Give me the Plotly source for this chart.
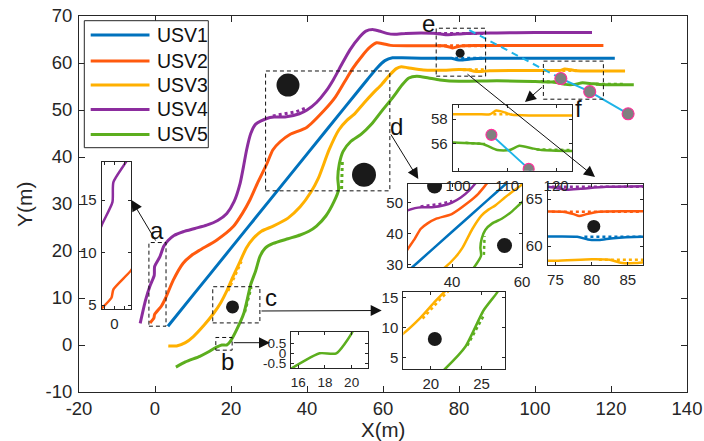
import plotly.graph_objects as go

W, H = 704, 441
FONT = "Liberation Sans, Arial, sans-serif"
AX = "#262626"

# ---------------- data ----------------
usv_names = ["USV1", "USV2", "USV3", "USV4", "USV5"]
usv_colors = ["#0072BD", "#FF5A0E", "#FFB000", "#8C2D9E", "#5CAE1E"]

usv1_x = [3.4, 10, 20, 30, 40, 50, 56, 58.5, 60.5, 62.5, 65, 70, 78, 79.5, 81, 83, 87, 100, 121]
usv1_y = [4.0, 10.6, 20.6, 30.6, 40.6, 50.6, 56.6, 59.0, 60.5, 61.1, 61.1, 61.0, 61.0, 60.7, 60.65, 60.85, 61.0, 61.0, 61.0]

usv2_x = [-1.3, -0.3, -0.1, 1.7, 2.8, 4.8, 7.4, 9.5, 11.8, 16.2, 20.6, 23.0, 25.0, 27.0, 29.4, 31.0, 33.0,
          35.5, 39.9, 44.6, 47.5, 49.9, 52.0, 54.5, 56.5, 58.3, 60.0, 62.0, 70.0, 76.0, 77.5, 78.3, 79.3,
          81.0, 85.0, 100.0, 118.0]
usv2_y = [4.7, 5.7, 6.5, 8.3, 10.0, 13.8, 17.4, 19.0, 20.2, 22.3, 25.2, 28.0, 30.9, 34.5, 38.5, 41.5, 43.3,
          44.8, 46.3, 50.0, 52.8, 56.0, 58.8, 61.5, 63.3, 64.3, 64.1, 63.75, 63.65, 63.65, 63.4, 63.2, 63.4,
          63.65, 63.7, 63.7, 63.7]

usv3_x = [3.5, 5.7, 8.0, 10.1, 13.0, 15.4, 17.3, 18.9, 20.5, 22.4, 24.0, 25.9, 28.0, 31.1, 35.0, 38.2, 41.0,
          43.0, 45.8, 48.4, 50.5, 52.3, 55.0, 57.5, 59.7, 61.8, 63.5, 64.8, 66.5, 70.6, 75.0, 80.0, 82.5,
          84.0, 86.0, 88.0, 95.0, 104.0, 106.5, 107.8, 109.5, 111.0, 115.0, 123.7]
usv3_y = [-0.2, -0.2, 0.5, 1.8, 4.3, 6.7, 9.0, 11.5, 14.5, 17.8, 20.6, 22.7, 24.2, 25.3, 27.0, 29.4, 32.5,
          35.5, 41.5, 45.8, 47.8, 49.0, 51.5, 53.7, 55.5, 57.5, 58.8, 59.2, 59.0, 58.5, 58.45, 58.6, 58.55,
          58.25, 58.2, 58.35, 58.4, 58.4, 58.4, 58.7, 58.55, 58.35, 58.3, 58.3]

usv4_x = [-3.9, -2.5, -1.3, -0.2, -0.1, 1.3, 2.3, 3.5, 5.0, 7.4, 10.5, 13.6, 16.5, 18.9, 20.8, 22.4, 23.3,
          24.1, 25.2, 26.5, 29.4, 31.3, 34.2, 38.0, 40.0, 42.5, 45.0, 46.9, 49.0, 51.3, 53.9, 55.5, 57.5,
          59.0, 61.0, 63.0, 66.0, 70.0, 74.0, 76.5, 78.5, 82.0, 90.0, 100.0, 108.0, 115.0]
usv4_y = [4.6, 9.5, 12.6, 14.8, 16.7, 18.8, 21.0, 22.3, 23.3, 24.1, 24.8, 25.5, 26.5, 28.0, 30.5, 34.4, 38.0,
          41.5, 45.0, 47.0, 48.2, 48.5, 48.5, 49.2, 50.0, 51.6, 54.0, 56.4, 59.5, 62.8, 65.6, 66.8, 67.1,
          66.8, 66.3, 66.1, 66.3, 66.4, 66.3, 66.0, 66.1, 66.3, 66.4, 66.5, 66.5, 66.5]

usv5_x = [5.5, 8.0, 11.8, 14.0, 15.5, 17.6, 18.85, 20.0, 21.4, 23.4, 25.2, 26.5, 27.6, 29.0, 31.1, 35.0, 38.2,
          40.5, 42.5, 45.0, 47.1, 48.3, 48.1, 48.5, 49.5, 51.5, 54.2, 57.0, 59.5, 62.7, 65.0, 66.8, 68.9,
          72.0, 75.0, 80.0, 90.0, 100.0, 105.0, 108.0, 110.5, 112.5, 115.0, 117.0, 126.0]
usv5_y = [-4.7, -3.6, -2.4, -1.5, -0.75, 0.0, 0.0, 1.0, 3.1, 6.8, 12.9, 15.8, 18.8, 20.6, 21.6, 22.6, 23.4,
          24.2, 25.3, 27.5, 30.5, 33.0, 35.5, 38.5, 41.2, 43.3, 44.8, 47.0, 49.6, 52.8, 55.3, 56.8, 57.2,
          56.8, 56.4, 56.1, 56.2, 56.05, 55.95, 55.45, 55.45, 55.8, 55.6, 55.45, 55.35]

# planned (dotted) path segments where they differ from the actual track
usv1_dot_x = [79.0, 87.1]
usv1_dot_y = [61.0, 61.0]
usv2_dot_x = [74.5, 86.8]
usv2_dot_y = [63.65, 63.65]
usv3_dot_x = [19.2, 20.8, 22.7, None, 81.0, 87.1, None, 107.2, 111.0]
usv3_dot_y = [11.5, 14.5, 17.8, None, 58.55, 58.55, None, 58.4, 58.4]
usv4_dot_x = [31.0, 34.0, 37.0, 40.0, None, 74.5, 87.1]
usv4_dot_y = [48.75, 49.1, 49.6, 50.5, None, 66.3, 66.3]
usv5_dot_x = [23.6, 24.55, 25.3, None, 49.1, 49.3, None, 101.5, 105.5, None, 116.0, 123.3]
usv5_dot_y = [7.0, 10.0, 12.3, None, 33.2, 39.2, None, 56.05, 55.95, None, 55.5, 55.45]

# moving obstacle track
cyan_dash_x = [82.7, 106.8]
cyan_dash_y = [67.0, 56.7]
cyan_x = [106.8, 114.4, 124.5]
cyan_y = [56.7, 53.9, 49.2]

# static obstacles
obs_x = [35.0, 55.0, 20.4, 80.3]
obs_y = [55.3, 36.2, 8.1, 62.1]

# zoom boxes
box_labels = ["a", "b", "c", "d", "e", "f"]
box_x0 = [-1.6, 16.0, 15.2, 29.1, 74.0, 102.2]
box_x1 = [2.9, 20.3, 27.6, 61.8, 87.0, 118.0]
box_y0 = [4.0, -1.1, 4.7, 32.8, 57.2, 52.3]
box_y1 = [21.8, 1.6, 12.4, 58.3, 67.4, 60.4]

main_xticks = [-20, 0, 20, 40, 60, 80, 100, 120, 140]
main_yticks = [-10, 0, 10, 20, 30, 40, 50, 60, 70]

paths_x = [usv1_x, usv2_x, usv3_x, usv4_x, usv5_x]
paths_y = [usv1_y, usv2_y, usv3_y, usv4_y, usv5_y]
dots_x = [usv1_dot_x, usv2_dot_x, usv3_dot_x, usv4_dot_x, usv5_dot_x]
dots_y = [usv1_dot_y, usv2_dot_y, usv3_dot_y, usv4_dot_y, usv5_dot_y]


def fx(p):
    return p / W


def fy(p):
    return 1 - p / H


def lbl(v):
    # MATLAB style labels with a plain hyphen for negatives
    return "%g" % v


fig = go.Figure()


def add_usvs(xa, ya, idxs, lw):
    for i in idxs:
        fig.add_trace(go.Scatter(x=paths_x[i], y=paths_y[i], mode="lines", xaxis=xa, yaxis=ya,
                                 line=dict(color=usv_colors[i], width=lw, shape="spline", smoothing=0.6),
                                 showlegend=False, hoverinfo="skip"))
    for i in idxs:
        fig.add_trace(go.Scatter(x=dots_x[i], y=dots_y[i], mode="lines", xaxis=xa, yaxis=ya,
                                 connectgaps=False,
                                 line=dict(color=usv_colors[i], width=lw, dash="dot"),
                                 showlegend=False, hoverinfo="skip"))


def add_obstacles(xa, ya, idxs, sizes):
    fig.add_trace(go.Scatter(x=[obs_x[i] for i in idxs], y=[obs_y[i] for i in idxs], mode="markers",
                             xaxis=xa, yaxis=ya,
                             marker=dict(color="#1A1A1A", size=sizes, opacity=1, line=dict(width=0)),
                             showlegend=False, hoverinfo="skip"))


def add_cyan(xa, ya, dashed, msize):
    if dashed:
        fig.add_trace(go.Scatter(x=cyan_dash_x, y=cyan_dash_y, mode="lines", xaxis=xa, yaxis=ya,
                                 line=dict(color="#1EB4E8", width=2, dash="7px,5px"),
                                 showlegend=False, hoverinfo="skip"))
    fig.add_trace(go.Scatter(x=cyan_x, y=cyan_y, mode="lines+markers", xaxis=xa, yaxis=ya,
                             line=dict(color="#1EB4E8", width=2),
                             marker=dict(color="#808080", size=msize, opacity=1,
                                         line=dict(color="#FF2E9A", width=1.1)),
                             showlegend=False, hoverinfo="skip"))


# main axes
add_usvs("x", "y", [0, 1, 2, 3, 4], 3)
add_obstacles("x", "y", [0, 1, 2, 3], [23, 24, 13, 9])
add_cyan("x", "y", True, 12)

# insets: pixel box (l, r, top, bottom), x range, y range, usv idx, ticks
insets = [
    dict(box=(101.7, 131.0, 161.5, 309.3), xr=[-1.3, 1.7], yr=[4.6, 18.67], usv=[1, 3],
         xt=[-1, 0, 1], xl=["", "0", ""], yt=[5, 10, 15], obs=[], cyan=False, fs=15),
    dict(box=(291.0, 368.3, 331.7, 368.3), xr=[15.45, 21.25], yr=[-0.75, 1.08], usv=[4],
         xt=[16, 18, 20], xl=None, yt=[-0.5, 0, 0.5], obs=[], cyan=False, fs=13.5),
    dict(box=(403.3, 505.0, 291.7, 369.0), xr=[17.3, 27.3], yr=[3.1, 16.0], usv=[2, 4],
         xt=[20, 25], xl=None, yt=[5, 10, 15], obs=[(2, 14)], cyan=False, fs=15),
    dict(box=(408.0, 522.0, 183.5, 267.0), xr=[27.4, 60.0], yr=[29.3, 56.1], usv=[0, 1, 2, 3, 4],
         xt=[40, 60], xl=None, yt=[30, 40, 50], obs=[(0, 15), (1, 15)], cyan=False, fs=15),
    dict(box=(547.5, 643.0, 184.0, 265.0), xr=[73.9, 87.1], yr=[58.0, 66.6], usv=[0, 1, 2, 3, 4],
         xt=[75, 80, 85], xl=None, yt=[60, 65], obs=[(3, 13)], cyan=False, fs=15),
    dict(box=(452.7, 572.3, 104.5, 170.7), xr=[98.9, 123.3], yr=[53.75, 59.2], usv=[2, 4],
         xt=[100, 110, 120], xl=None, yt=[56, 58], obs=[], cyan=True, fs=15),
]


def axis_common(fs, ticklen):
    return dict(showline=True, linecolor=AX, linewidth=1, mirror="ticks", ticks="inside",
                ticklen=ticklen, tickwidth=1, tickcolor=AX, showgrid=False, zeroline=False,
                automargin=False,
                tickfont=dict(family=FONT, size=fs, color=AX), fixedrange=True)


layout = dict(width=W, height=H, margin=dict(l=0, r=0, t=0, b=0, pad=0, autoexpand=False),
              paper_bgcolor="white", plot_bgcolor="white", showlegend=False)

layout["xaxis"] = dict(axis_common(18.5, 6), range=[-20, 140], domain=[fx(79), fx(687)], anchor="y",
                       tickvals=main_xticks, ticktext=[lbl(v) for v in main_xticks], ticklabelstandoff=0)
layout["yaxis"] = dict(axis_common(18.5, 6), range=[-10, 70], domain=[fy(392), fy(16)], anchor="x",
                       tickvals=main_yticks, ticktext=[lbl(v) for v in main_yticks], ticklabelstandoff=2)

for k, ins in enumerate(insets):
    n = k + 2
    xa, ya = "x%d" % n, "y%d" % n
    l, r, t, b = ins["box"]
    xd = dict(axis_common(ins["fs"], 3), range=ins["xr"], domain=[fx(l), fx(r)], anchor=ya,
              tickvals=ins["xt"], ticklabelstandoff=1,
              ticktext=ins["xl"] if ins["xl"] is not None else [lbl(v) for v in ins["xt"]])
    yd = dict(axis_common(ins["fs"], 3), range=ins["yr"], domain=[fy(b), fy(t)], anchor=xa,
              tickvals=ins["yt"], ticktext=[lbl(v) for v in ins["yt"]], ticklabelstandoff=1)
    layout["xaxis%d" % n] = xd
    layout["yaxis%d" % n] = yd
    add_usvs(xa, ya, ins["usv"], 2.5)
    if ins["obs"]:
        add_obstacles(xa, ya, [o[0] for o in ins["obs"]], [o[1] for o in ins["obs"]])
    if ins["cyan"]:
        add_cyan(xa, ya, False, 11)

# dashed zoom boxes
shapes = []
for i in range(len(box_labels)):
    shapes.append(dict(type="rect", xref="x", yref="y", x0=box_x0[i], x1=box_x1[i], y0=box_y0[i], y1=box_y1[i],
                       line=dict(color="#111111", width=1, dash="4px,3px"), fillcolor="rgba(0,0,0,0)"))

# legend (custom, MATLAB-like long line samples)
leg_l, leg_r, leg_t, leg_b = 84.3, 208.3, 20.7, 147.7
shapes.append(dict(type="rect", xref="paper", yref="paper", x0=fx(leg_l), x1=fx(leg_r), y0=fy(leg_b), y1=fy(leg_t),
                   line=dict(color=AX, width=1), fillcolor="white", layer="above"))
annotations = []
leg_rows = [35, 61, 85, 109.5, 134.5]
for i, name in enumerate(usv_names):
    shapes.append(dict(type="line", xref="paper", yref="paper", x0=fx(90.7), x1=fx(149.5),
                       y0=fy(leg_rows[i]), y1=fy(leg_rows[i]),
                       line=dict(color=usv_colors[i], width=3), layer="above"))
    annotations.append(dict(xref="paper", yref="paper", x=fx(154.5), y=fy(leg_rows[i]), text=name,
                            showarrow=False, xanchor="left", yanchor="middle",
                            font=dict(family=FONT, size=19.5, color="#111111")))

# box letters
letter_pos = [(157, 230), (227, 361), (271, 297), (396, 126), (428, 24), (578, 109)]
for lab, (lx, ly) in zip(box_labels, letter_pos):
    annotations.append(dict(xref="paper", yref="paper", x=fx(lx), y=fy(ly), text=lab, showarrow=False,
                            xanchor="center", yanchor="middle",
                            font=dict(family=FONT, size=24, color="#111111")))

# arrows: head pixel, tail pixel
arrows = [((131.5, 200), (156.5, 242)),
          ((270, 342.7), (232.3, 342.7)),
          ((381.7, 310.5), (260, 311)),
          ((418.3, 179), (390, 133)),
          ((595, 177), (466, 73)),
          ((525, 102), (543.3, 86))]
for (hx, hy), (tx, ty) in arrows:
    annotations.append(dict(xref="paper", yref="paper", x=fx(hx), y=fy(hy), ax=tx - hx, ay=ty - hy,
                            axref="pixel", ayref="pixel", text="", showarrow=True,
                            arrowhead=2, arrowsize=2.2, arrowwidth=1, arrowcolor="#111111", standoff=0))

# axis titles
annotations.append(dict(xref="paper", yref="paper", x=fx(383), y=fy(429.5), text="X(m)", showarrow=False,
                        xanchor="center", yanchor="middle", font=dict(family=FONT, size=20.5, color=AX)))
annotations.append(dict(xref="paper", yref="paper", x=fx(24), y=fy(204), text="Y(m)", showarrow=False,
                        xanchor="center", yanchor="middle", textangle=-90,
                        font=dict(family=FONT, size=21, color=AX)))

layout["shapes"] = shapes
layout["annotations"] = annotations
fig.update_layout(**layout)

fig.write_html("out.html")
